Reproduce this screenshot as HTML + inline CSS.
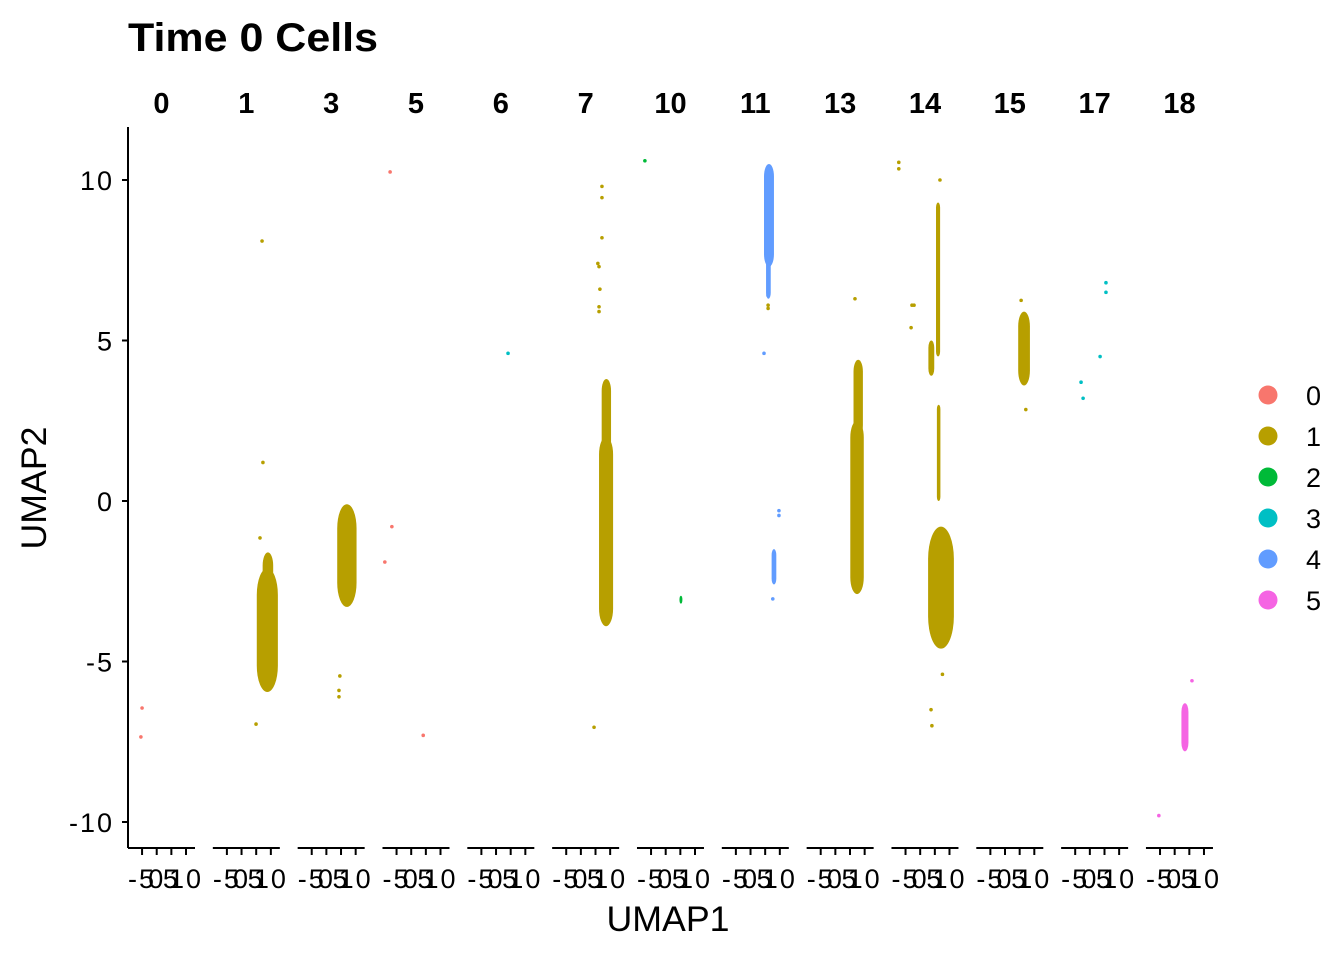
<!DOCTYPE html>
<html><head><meta charset="utf-8"><style>
html,body{margin:0;padding:0;background:#fff;}
svg{display:block;font-family:"Liberation Sans",Arial,sans-serif;}
</style></head><body>
<svg id="chart" width="1344" height="960" viewBox="0 0 1344 960">
<text x="128" y="51" font-size="40" font-weight="bold" textLength="250" lengthAdjust="spacingAndGlyphs">Time 0 Cells</text>
<text x="668" y="931" font-size="35" text-anchor="middle" textLength="123" lengthAdjust="spacingAndGlyphs">UMAP1</text>
<text transform="translate(46,488) rotate(-90)" font-size="35" text-anchor="middle" textLength="123" lengthAdjust="spacingAndGlyphs">UMAP2</text>
<g id="plot"></g>
<g id="legend"></g>
</svg>
<script>
const panels = ["0","1","3","5","6","7","10","11","13","14","15","17","18"];
const groupColors = ["#F8766D","#B79F00","#00BA38","#00BFC4","#619CFF","#F564E3"];
const groupLabels = ["0","1","2","3","4","5"];
const yTicks = [10,5,0,-5,-10];
const xTicks = [-5,0,5,10];
const xTickLabels = ["-5","0","5","10"];
// blobs: [panelIndex, xCenter, halfWidth, yMin, yMax, group]
const blobs = [
 [1,8.8,3.6,-5.95,-2.1,1],[1,9.0,1.8,-2.6,-1.6,1],
 [2,7.0,3.3,-3.3,-0.1,1],
 [5,8.6,2.4,-3.9,2.0,1],[5,8.7,1.6,1.5,3.8,1],
 [6,5.2,0.5,-3.2,-2.95,2],
 [7,6.3,1.7,7.3,10.5,4],[7,6.1,0.8,6.3,7.6,4],[7,8.0,0.8,-2.6,-1.5,4],
 [8,7.4,2.3,-2.9,2.5,1],[8,7.8,1.6,2.0,4.4,1],
 [9,6.1,0.7,4.5,9.3,1],[9,3.8,1.0,3.9,5.0,1],[9,6.3,0.6,0.0,3.0,1],[9,7.1,4.4,-4.6,-0.8,1],
 [10,6.5,2.0,3.6,5.9,1],
 [12,3.5,1.2,-7.8,-6.3,5]
];
// points: [panelIndex, x, y, group]
const points = [
 [0,-5.0,-6.45,0],[0,-5.4,-7.35,0],
 [1,7.0,8.1,1],[1,7.3,1.2,1],[1,4.95,-6.95,1],[1,6.3,-1.15,1],
 [2,4.6,-5.45,1],[2,4.3,-5.9,1],[2,4.3,-6.1,1],
 [3,-7.2,10.25,0],[3,-6.6,-0.8,0],[3,-9.0,-1.9,0],[3,4.1,-7.3,0],
 [4,4.1,4.6,3],
 [5,7.2,9.8,1],[5,7.2,9.45,1],[5,7.2,8.2,1],[5,5.8,7.4,1],[5,6.2,7.3,1],[5,6.5,6.6,1],[5,6.2,6.05,1],[5,6.2,5.9,1],[5,4.5,-7.05,1],
 [6,-7.1,10.6,2],
 [7,5.97,6.4,4],[7,4.6,4.6,4],[7,9.7,-0.3,4],[7,9.7,-0.45,4],[7,7.6,-3.05,4],[7,6.0,6.1,1],[7,6.0,6.0,1],
 [8,6.7,6.3,1],
 [9,-7.3,10.55,1],[9,-7.3,10.35,1],[9,-2.8,6.1,1],[9,-2.1,6.1,1],[9,-3.1,5.4,1],[9,3.7,-6.5,1],[9,4.0,-7.0,1],[9,6.75,10.0,1],[9,7.6,-5.4,1],[9,5.0,-4.3,1],
 [10,5.5,6.25,1],[10,7.1,2.85,1],
 [11,5.5,6.8,3],[11,5.5,6.5,3],[11,3.5,4.5,3],[11,-3.0,3.7,3],[11,-2.3,3.2,3],
 [12,5.9,-5.6,5],[12,-5.4,-9.8,5]
];

const NS="http://www.w3.org/2000/svg";
const plot=document.getElementById('plot');
const panelStep=84.83, panelW=67, left0=128, xMin=-9.8, xScale=2.93;
const yTop=127, yBot=848;
function px(k,x){return left0+k*panelStep+(x-xMin)*xScale;}
function py(y){return 501-y*32.1;}
function mk(tag,attrs,parent){const e=document.createElementNS(NS,tag);for(const a in attrs)e.setAttribute(a,attrs[a]);(parent||plot).appendChild(e);return e;}

const yl=mk('line',{x1:128,y1:yTop,x2:128,y2:yBot,stroke:'#000','stroke-width':2});


yTicks.forEach(t=>{
 const tk=mk('line',{x1:122,y1:py(t),x2:128,y2:py(t),stroke:'#000','stroke-width':2});
 
 
 const tl=mk('text',{x:114,y:py(t)+10,'font-size':27,'text-anchor':'end','letter-spacing':2});
 tl.textContent=String(t);
 
 
});

panels.forEach((p,k)=>{
 const L=left0+k*panelStep;
 const st=mk('text',{x:L+panelW/2,y:113,'font-size':29,'font-weight':'bold','text-anchor':'middle'});
 st.textContent=p;
 
 
 const xl=mk('line',{x1:L,y1:yBot,x2:L+panelW,y2:yBot,stroke:'#000','stroke-width':2});
 
 
 xTicks.forEach((t,i)=>{
  const tk=mk('line',{x1:px(k,t),y1:yBot,x2:px(k,t),y2:yBot+7,stroke:'#000','stroke-width':2});
  
  
  const tl=mk('text',{x:px(k,t),y:888,'font-size':27,'text-anchor':'middle','letter-spacing':2});
  tl.textContent=xTickLabels[i];
  
  
 });
});

blobs.forEach(b=>{
 const [k,x,hw,y0,y1,g]=b;
 const w=hw*2*xScale, h=py(y0)-py(y1);
 const r=Math.min(w/2,h/2);
 const e=mk('rect',{x:px(k,x-hw),y:py(y1),width:w,height:h,rx:r,ry:Math.min(h/2,r*2.5),fill:groupColors[g]});
 
 
});
points.forEach(p=>{
 const [k,x,y,g]=p;
 const c=mk('circle',{cx:px(k,x),cy:py(y),r:1.8,fill:groupColors[g]});
 
 
});

const lg=document.getElementById('legend');
groupLabels.forEach((l,i)=>{
 const cy=395+i*41;
 const c=mk('circle',{cx:1268,cy:cy,r:9.5,fill:groupColors[i]},lg);
 
 
 const t=mk('text',{x:1306,y:cy+10,'font-size':27},lg);
 t.textContent=l;
 
 
});
</script>
</body></html>
